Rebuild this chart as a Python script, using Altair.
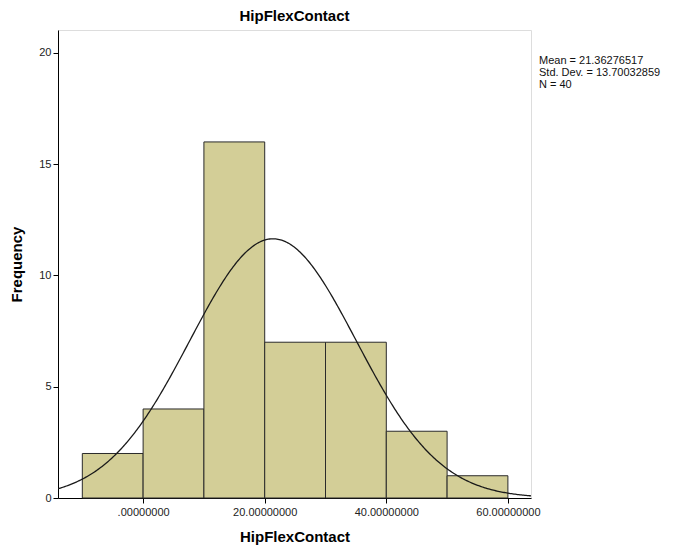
import altair as alt
import pandas as pd

# Histogram bins (width 10) and their frequencies
bin_starts = [-10, 0, 10, 20, 30, 40, 50]
bin_ends = [0, 10, 20, 30, 40, 50, 60]
counts = [2, 4, 16, 7, 7, 3, 1]

# Summary statistics shown beside the plot
mean = 21.36276517
std_dev = 13.70032859
n_obs = 40
bin_width = 10
stat_lines = ["Mean = 21.36276517", "Std. Dev. = 13.70032859", "N = 40"]

x_ticks = [0, 20, 40, 60]
y_ticks = [0, 5, 10, 15, 20]
x_domain = [-14, 63.8]
y_domain = [0, 21.03]

FONT = "Liberation Sans"

bars_df = pd.DataFrame({"start": bin_starts, "end": bin_ends, "count": counts})

x_scale = alt.Scale(domain=x_domain, nice=False, zero=False)
y_scale = alt.Scale(domain=y_domain, nice=False)

x_axis = alt.Axis(
    title="HipFlexContact", values=x_ticks,
    labelExpr="datum.value == 0 ? '.00000000' : format(datum.value, '.8f')",
    grid=False, domainColor="#000000", tickColor="#000000", tickSize=5,
    labelFont=FONT, labelFontSize=11, labelColor="#222222", labelPadding=3,
    titleFont=FONT, titleFontSize=15, titleFontWeight="bold", titleColor="#000000",
    titlePadding=12,
)
y_axis = alt.Axis(
    title="Frequency", values=y_ticks, format="d",
    grid=False, domainColor="#000000", tickColor="#000000", tickSize=5,
    labelFont=FONT, labelFontSize=11, labelColor="#222222", labelPadding=2,
    titleFont=FONT, titleFontSize=15, titleFontWeight="bold", titleColor="#000000",
    titlePadding=14,
)

bars = alt.Chart(bars_df).mark_rect(
    fill="#D3CE97", stroke="#2a2a2a", strokeWidth=1
).encode(
    x=alt.X("start:Q", scale=x_scale, axis=x_axis),
    x2="end:Q",
    y=alt.Y("count:Q", scale=y_scale, axis=y_axis),
    y2=alt.datum(0),
)

# Normal curve scaled to counts: N * bin width * pdf(x; mean, sd)
curve = alt.Chart(alt.sequence(-14, 64.01, 0.2, as_="x")).transform_calculate(
    y=f"{n_obs * bin_width} / ({std_dev} * sqrt(2 * PI)) * exp(-0.5 * pow((datum.x - {mean}) / {std_dev}, 2))"
).mark_line(color="#1a1a1a", strokeWidth=1.3, clip=True).encode(
    x=alt.X("x:Q", scale=x_scale),
    y=alt.Y("y:Q", scale=y_scale),
)

# One text mark per statistics line, stacked to the right of the plot
stat_layers = [
    alt.Chart(pd.DataFrame({"text": [line]})).mark_text(
        align="left", baseline="middle", font=FONT, fontSize=11, color="#111111",
    ).encode(
        x=alt.value(481),
        y=alt.value(31 + 12 * i),
        text="text:N",
    )
    for i, line in enumerate(stat_lines)
]

chart = alt.layer(bars, curve, *stat_layers).properties(
    width=473,
    height=468,
    title=alt.TitleParams(
        "HipFlexContact", font=FONT, fontSize=15, fontWeight="bold",
        color="#000000", anchor="middle", offset=6,
    ),
    autosize=alt.AutoSizeParams(type="none"),
    padding={"left": 58, "top": 30, "right": 147, "bottom": 58},
).configure_view(
    fill="#F0F0F0", stroke="#8a8a8a", strokeWidth=1.5
).configure(background="#FFFFFF")

chart.save("out.html", embed_options={"renderer": "svg", "actions": False})
